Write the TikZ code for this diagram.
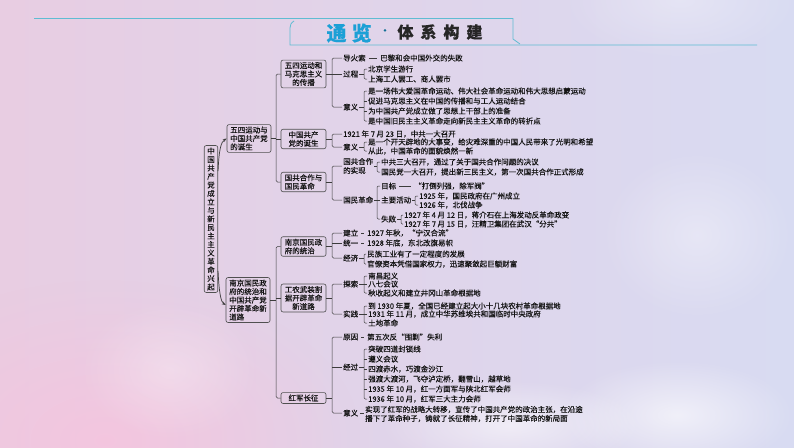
\documentclass[tikz,border=0pt]{standalone}
\usepackage{fontspec}
\setmainfont{Noto Sans CJK SC}[FakeBold=0.35]
\usetikzlibrary{arrows.meta,calc,fadings}
\definecolor{bgL}{RGB}{232,205,226}
\definecolor{bgR}{RGB}{216,219,242}
\definecolor{bgB}{RGB}{246,196,222}
\definecolor{tealc}{RGB}{95,188,210}
\definecolor{ttl}{RGB}{28,160,214}
\definecolor{lnc}{RGB}{60,60,60}
\definecolor{boxc}{RGB}{80,80,80}
\definecolor{txtc}{RGB}{20,20,20}
\newcommand\fs{\fontsize{7.5}{9}\selectfont}
\newcommand\brkt[4]{%
  \draw[ln,rounded corners=1.2pt] (#2.west) -- (#2.west -| #1) -- (#3.west -| #1) -- (#3.west);
  \draw[ln] (#4.east) -- (#4.east -| #1);}
\newcommand\tck[2]{\draw[ln] (#2.west -| #1) -- (#2.west);}
\tikzfading[name=softc, inner color=transparent!0, outer color=transparent!100]
\begin{document}
\begin{tikzpicture}[x=1pt,y=-1pt,
  ln/.style={draw=lnc,line width=0.5pt},
  rc/.style={rounded corners=1.5pt},
  dsh/.style={ln,shorten <=2pt,shorten >=2pt},
  box/.style={draw=boxc,line width=0.6pt,rounded corners=2pt,inner xsep=3pt,inner ysep=2pt,
    font=\fontsize{7.5}{8.5}\selectfont,text=txtc},
  lbox/.style={box,minimum width=44pt,align=left},
  mbox/.style={box,minimum width=45pt},
  t/.style={anchor=west,inner xsep=1pt,inner ysep=1pt,font=\fs,text=txtc},
  arr/.style={ln,line width=0.7pt,-{Stealth[length=4pt,width=3pt]}}]
\useasboundingbox (0,0) rectangle (794,447);
% background
\shade[left color=bgL,right color=bgR] (0,0) rectangle (794,447);
\fill[bgB,path fading=softc,opacity=0.85] (-150,280) rectangle (360,600);
\fill[white,path fading=softc,opacity=0.55] (380,380) rectangle (640,470);
\fill[white,path fading=softc,opacity=0.6] (560,360) rectangle (794,470);
\fill[white,path fading=softc,opacity=0.35] (600,150) rectangle (794,320);
\fill[white,path fading=softc,opacity=0.3] (80,300) rectangle (260,440);
\fill[white,path fading=softc,opacity=0.3] (560,-60) rectangle (800,60);
% header
\draw[tealc,line width=0.8pt] (34,18.5) -- (513,18.5) -- (513,39) -- (520,44);
\draw[tealc,line width=0.8pt] (294,21) .. controls (291,23) and (290,25) .. (290,28) -- (290,45) -- (757,45);
\node[font=\fontsize{20}{20}\selectfont\bfseries,text=ttl] (t1) at (349,33) {通\hspace{5pt}览};
\node[font=\fontsize{12}{12}\selectfont,text=ttl!70!black] (t2) at (385,32) {·};
\node[font=\fontsize{16}{16}\selectfont\bfseries,text=black!85] (t3) at (440,32) {体\hspace{7pt}系\hspace{7pt}构\hspace{7pt}建};
% root and level 1
\node[box,text width=7.5pt,align=center,inner xsep=3pt] (root) at (211,219)
  {中\\国\\共\\产\\党\\成\\立\\与\\新\\民\\主\\主\\义\\革\\命\\兴\\起};
\node[lbox] (L1a) at (249,138.5) {五四运动与\\中国共产党\\的诞生};
\node[lbox] (L1b) at (248,300) {南京国民政\\府的统治和\\中国共产党\\开辟革命新\\道路};
\draw[arr] ($(root.east)+(0,-48)$) .. controls ($(root.east)+(1,-70)$) and (221,142) .. (L1a.west);
\draw[arr] ($(root.east)+(0,52)$) .. controls ($(root.east)+(1,74)$) and (221,302) .. ($(L1b.west)+(0,5)$);
% level 2
\node[mbox,align=center] (L2a) at (303.5,74) {五四运动和\\马克思主义\\的传播};
\node[mbox,align=center] (L2b) at (303.5,139) {中国共产\\党的诞生};
\node[mbox,align=left] (L2c) at (303.5,182) {国共合作与\\国民革命};
\node[mbox,align=left] (L2d) at (303.5,246.5) {南京国民政\\府的统治};
\node[mbox,align=center] (L2e) at (303.5,298) {工农武装割\\据开辟革命\\新道路};
\node[mbox,align=center] (L2f) at (303.5,398) {红军长征};
\coordinate (tk) at (276,0);
\coordinate (j) at (332,0);
\coordinate (kA) at (364,0);
\coordinate (kB) at (377,0);
\coordinate (kC) at (415,0);
\coordinate (kD) at (401,0);
\draw[ln] (L1a.east) -- (L1a.east -| tk);
\draw[ln,rc] (L2a.west) -- (L2a.west -| tk) -- (L2c.west -| tk) -- (L2c.west);
\tck{tk}{L2b}
\draw[ln] (L1b.east) -- (L1b.east -| tk);
\draw[ln,rc] (L2d.west) -- (L2d.west -| tk) -- (L2f.west -| tk) -- (L2f.west);
\tck{tk}{L2e}
% group A
\node[t] (a1) at (342,58) {导火索};
\node[t] (a1t) at (379,58) {巴黎和会中国外交的失败};
\node[t] (a2) at (342,74) {过程};
\node[t] (a21) at (367,69) {北京学生游行};
\node[t] (a22) at (367,79) {上海工人罢工、商人罢市};
\node[t] (a3) at (342,107) {意义};
\node[t] (a31) at (367,91) {是一场伟大爱国革命运动、伟大社会革命运动和伟大思想启蒙运动};
\node[t] (a32) at (367,101) {促进马克思主义在中国的传播和与工人运动结合};
\node[t] (a33) at (367,111) {为中国共产党成立做了思想上干部上的准备};
\node[t] (a34) at (367,121) {是中国旧民主主义革命走向新民主主义革命的转折点};
\draw[ln] (L2a.east) -- (L2a.east -| j);
\draw[ln,rc] (a1.west) -- (a1.west -| j) -- (a3.west -| j) -- (a3.west);
\tck{j}{a2}
\draw[dsh] (a1.east) -- (a1t.west);
\brkt{kA}{a21}{a22}{a2}
\brkt{kA}{a31}{a34}{a3}
\tck{kA}{a32}\tck{kA}{a33}
% group B
\node[t] (b1) at (342,134) {1921 年 7 月 23 日，中共一大召开};
\node[t] (b2) at (342,147) {意义};
\node[t] (b21) at (367,142) {是一个开天辟地的大事变，给灾难深重的中国人民带来了光明和希望};
\node[t] (b22) at (367,151) {从此，中国革命的面貌焕然一新};
\draw[ln] (L2b.east) -- (L2b.east -| j);
\draw[ln,rc] (b1.west) -- (b1.west -| j) -- (b2.west -| j) -- (b2.west);
\brkt{kA}{b21}{b22}{b2}
% group C
\node[t,align=left] (c1) at (342,166) {国共合作\\的实现};
\node[t] (c11) at (380,162) {中共三大召开，通过了关于国共合作问题的决议};
\node[t] (c12) at (380,172) {国民党一大召开，提出新三民主义，第一次国共合作正式形成};
\node[t] (c2) at (342,200) {国民革命};
\node[t] (c21) at (380,186) {目标};
\node[t] (c21t) at (413,186) {“打倒列强，除军阀”};
\node[t] (c22) at (380,200) {主要活动};
\node[t] (c221) at (418,196) {1925 年，国民政府在广州成立};
\node[t] (c222) at (418,205) {1926 年，北伐战争};
\node[t] (c23) at (380,219) {失败};
\node[t] (c231) at (403,215) {1927 年 4 月 12 日，蒋介石在上海发动反革命政变};
\node[t] (c232) at (403,224) {1927 年 7 月 15 日，汪精卫集团在武汉“分共”};
\draw[ln] (L2c.east) -- (L2c.east -| j);
\draw[ln,rc] (c1.west) -- (c1.west -| j) -- (c2.west -| j) -- (c2.west);
\brkt{kB}{c11}{c12}{c1}
\draw[ln,rounded corners=1.2pt] (c21.west) -- (c21.west -| kB) -- (c23.west -| kB) -- (c23.west);
\draw[ln] (c2.east) -- (c22.west);
\draw[dsh] (c21.east) -- (c21t.west);
\brkt{kC}{c221}{c222}{c22}
\brkt{kD}{c231}{c232}{c23}
% group D
\node[t] (d1) at (342,233) {建立};
\node[t] (d1t) at (366,233) {1927 年秋，“宁汉合流”};
\node[t] (d2) at (342,243) {统一};
\node[t] (d2t) at (366,243) {1928 年底，东北改旗易帜};
\node[t] (d3) at (342,258) {经济};
\node[t] (d31) at (366,254) {民族工业有了一定程度的发展};
\node[t] (d32) at (366,264) {官僚资本凭借国家权力，迅速聚敛起巨额财富};
\draw[ln] (L2d.east) -- (L2d.east -| j);
\draw[ln,rc] (d1.west) -- (d1.west -| j) -- (d3.west -| j) -- (d3.west);
\tck{j}{d2}
\draw[dsh] (d1.east) -- (d1t.west);
\draw[dsh] (d2.east) -- (d2t.west);
\brkt{kA}{d31}{d32}{d3}
% group E
\node[t] (e1) at (342,284) {探索};
\node[t] (e11) at (367,276) {南昌起义};
\node[t] (e12) at (367,284) {八七会议};
\node[t] (e13) at (367,293) {秋收起义和建立井冈山革命根据地};
\node[t] (e2) at (342,314) {实践};
\node[t] (e21) at (367,306) {到 1930 年夏，全国已经建立起大小十几块农村革命根据地};
\node[t] (e22) at (367,314) {1931 年 11 月，成立中华苏维埃共和国临时中央政府};
\node[t] (e23) at (367,323) {土地革命};
\draw[ln] (L2e.east) -- (L2e.east -| j);
\draw[ln,rc] (e1.west) -- (e1.west -| j) -- (e2.west -| j) -- (e2.west);
\brkt{kA}{e11}{e13}{e1}\tck{kA}{e12}
\brkt{kA}{e21}{e23}{e2}\tck{kA}{e22}
% group F
\node[t] (f1) at (342,337) {原因};
\node[t] (f1t) at (366,337) {第五次反“围剿”失利};
\node[t] (f2) at (342,367) {经过};
\node[t] (f21) at (367,349) {突破四道封锁线};
\node[t] (f22) at (367,359) {遵义会议};
\node[t] (f23) at (367,369) {四渡赤水，巧渡金沙江};
\node[t] (f24) at (367,379) {强渡大渡河，飞夺泸定桥，翻雪山，越草地};
\node[t] (f25) at (367,389) {1935 年 10 月，红一方面军与陕北红军会师};
\node[t] (f26) at (367,399) {1936 年 10 月，红军三大主力会师};
\node[t] (f3) at (342,413) {意义};
\node[t,align=left] (f3t) at (364,414) {实现了红军的战略大转移，宣传了中国共产党的政治主张，在沿途\\播下了革命种子，铸就了长征精神，打开了中国革命的新局面};
\draw[ln] (L2f.east) -- (L2f.east -| j);
\draw[ln,rc] (f1.west) -- (f1.west -| j) -- (f3.west -| j) -- (f3.west);
\tck{j}{f2}
\draw[dsh] (f1.east) -- (f1t.west);
\draw[ln,shorten <=1pt] (f3.east) -- (f3.east -| f3t.west);
\brkt{kA}{f21}{f26}{f2}
\tck{kA}{f22}\tck{kA}{f23}\tck{kA}{f24}\tck{kA}{f25}
\end{tikzpicture}
\end{document}
